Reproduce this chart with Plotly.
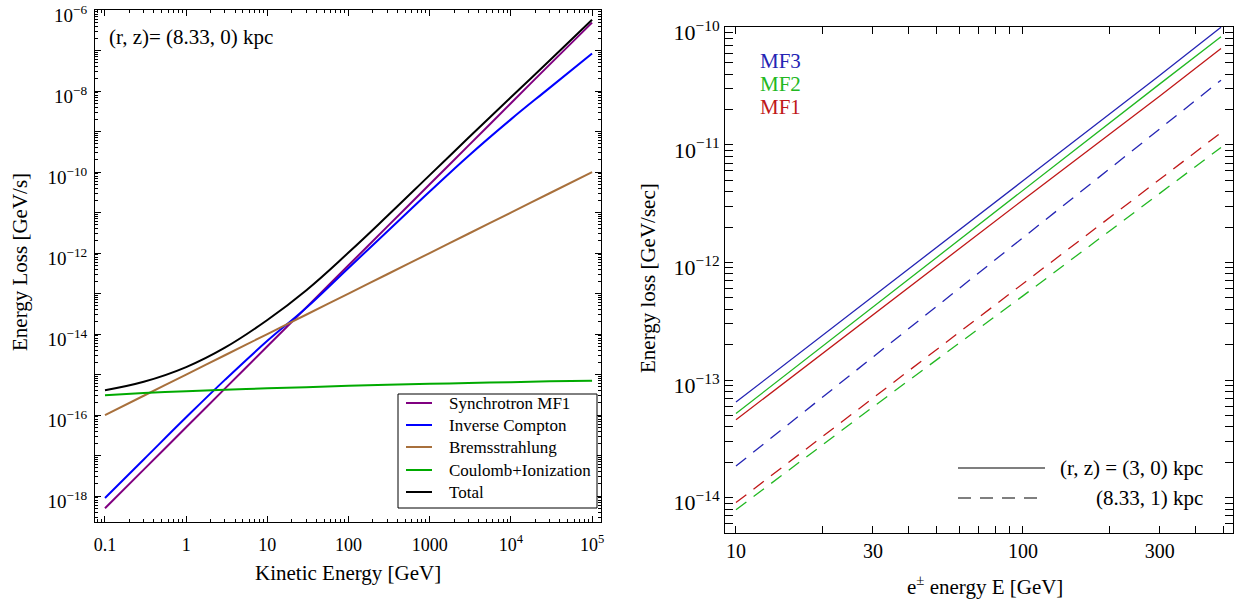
import plotly.graph_objects as go

# ---------------- Left panel data (r, z) = (8.33, 0) kpc ----------------
E_kin = [0.1, 0.3, 1, 3, 10, 30, 100, 300, 1000, 3000, 1e4, 3e4, 1e5]
synchrotron = [5e-19, 4.5e-18, 5e-17, 4.5e-16, 5e-15, 4.5e-14, 5e-13, 4.5e-12,
               5e-11, 4.5e-10, 5e-9, 4.5e-8, 4.9e-7]
inverse_compton = [9e-19, 8e-18, 8.8e-17, 7.4e-16, 6.8e-15, 4.4e-14, 4.3e-13,
                   3.4e-12, 3.3e-11, 2.5e-10, 2.0e-9, 1.2e-8, 8.5e-8]
bremsstrahlung = [1e-16, 3e-16, 1e-15, 3e-15, 1e-14, 3e-14, 1e-13, 3e-13,
                  1e-12, 3e-12, 1e-11, 3e-11, 1e-10]
coulomb_ion = [3.1e-16, 3.5e-16, 3.9e-16, 4.2e-16, 4.6e-16, 4.9e-16, 5.3e-16,
               5.6e-16, 5.9e-16, 6.2e-16, 6.5e-16, 6.8e-16, 7.0e-16]
total = [a + b + c + d for a, b, c, d in
         zip(synchrotron, inverse_compton, bremsstrahlung, coulomb_ion)]

# ---------------- Right panel data ----------------
E_pos = [10, 30, 100, 300, 490]
mf3_r3 = [6.5e-14, 5.1e-13, 4.95e-12, 3.9e-11, 1.0e-10]
mf2_r3 = [5.2e-14, 4.2e-13, 4.1e-12, 3.3e-11, 8.3e-11]
mf1_r3 = [4.6e-14, 3.6e-13, 3.4e-12, 2.6e-11, 6.6e-11]
mf3_r833 = [1.86e-14, 1.57e-13, 1.62e-12, 1.36e-11, 3.55e-11]
mf1_r833 = [9.1e-15, 7.0e-14, 6.6e-13, 5.1e-12, 1.27e-11]
mf2_r833 = [7.9e-15, 5.9e-14, 5.2e-13, 3.9e-12, 9.5e-12]

left_x_ticks = [0.1, 1, 10, 100, 1000, 1e4, 1e5]
left_x_labels = ["0.1", "1", "10", "100", "1000", "10<sup>4</sup>", "10<sup>5</sup>"]
left_y_decades = list(range(-18, -5))
right_x_ticks = [10, 20, 30, 40, 50, 60, 70, 80, 90, 100, 200, 300, 400, 500]
right_x_labels = {10: "10", 30: "30", 100: "100", 300: "300"}
right_y_decades = [-15, -14, -13, -12, -11]

FONT = "Liberation Serif, Times New Roman, Times, DejaVu Serif, serif"
C_PURPLE = "#800080"
C_BLUE = "#0000ff"
C_BROWN = "#a8703c"
C_GREEN = "#00aa00"
R_BLUE = "#2424b4"
R_GREEN = "#22b822"
R_RED = "#c01818"

fig = go.Figure()

left = [
    ("Synchrotron MF1", synchrotron, C_PURPLE),
    ("Inverse Compton", inverse_compton, C_BLUE),
    ("Bremsstrahlung", bremsstrahlung, C_BROWN),
    ("Coulomb+Ionization", coulomb_ion, C_GREEN),
    ("Total", total, "black"),
]
for name, ys, col in left:
    fig.add_trace(go.Scatter(x=E_kin, y=ys, mode="lines", name=name,
                             line=dict(color=col, width=2, shape="spline", smoothing=1.2),
                             xaxis="x", yaxis="y", showlegend=False))

right = [
    (mf3_r3, R_BLUE, "solid"), (mf2_r3, R_GREEN, "solid"), (mf1_r3, R_RED, "solid"),
    (mf3_r833, R_BLUE, "13px,9px"), (mf1_r833, R_RED, "13px,9px"), (mf2_r833, R_GREEN, "13px,9px"),
]
for ys, col, dash in right:
    fig.add_trace(go.Scatter(x=E_pos, y=ys, mode="lines", showlegend=False,
                             line=dict(color=col, width=1.3, dash=dash),
                             xaxis="x2", yaxis="y2"))

W, H = 1240, 601
dom_lx = [95 / W, 601 / W]
dom_ly = [1 - 522 / H, 1 - 10 / H]
dom_rx = [725 / W, 1233 / W]
dom_ry = [1 - 533 / H, 1 - 27 / H]

axis_common = dict(showline=True, linecolor="black", linewidth=1, mirror="allticks",
                   ticks="inside", tickcolor="black", showgrid=False, zeroline=False,
                   automargin=False, ticklabeloverflow="allow")

left_x_minor = [m * 10.0 ** d for d in range(-2, 6) for m in range(2, 10)]
left_y_minor = [m * 10.0 ** d for d in range(-19, -5) for m in range(2, 10)]
right_y_vals = [m * 10.0 ** d for d in right_y_decades for m in range(1, 10)] + [1e-10]
right_y_text = [("10<sup>\u2212%d</sup>" % (-d)) if m == 1 else ""
                for d in right_y_decades for m in range(1, 10)] + ["10<sup>\u221210</sup>"]

fig.update_layout(
    width=W, height=H, margin=dict(l=0, r=0, t=0, b=0),
    paper_bgcolor="white", plot_bgcolor="white", showlegend=False,
    font=dict(family=FONT, color="black", size=16),
    xaxis=dict(domain=dom_lx, type="log", range=[-1.123, 5.11], anchor="y",
               tickvals=left_x_ticks, ticktext=left_x_labels, ticklen=6,
               tickfont=dict(family=FONT, size=18), ticklabelstandoff=6,
               minor=dict(ticks="inside", ticklen=3, tickcolor="black", showgrid=False,
                          tickvals=left_x_minor),
               **axis_common),
    yaxis=dict(domain=dom_ly, type="log", range=[-18.64, -5.998], anchor="x",
               tickvals=[10.0 ** d for d in left_y_decades],
               ticktext=[("10<sup>\u2212%d</sup>" % (-d)) if d % 2 == 0 else "" for d in left_y_decades],
               ticklen=6, tickfont=dict(family=FONT, size=19), ticklabelshift=5,
               ticklabelstandoff=3,
               minor=dict(ticks="inside", ticklen=3, tickcolor="black", showgrid=False,
                          tickvals=left_y_minor),
               **axis_common),
    xaxis2=dict(domain=dom_rx, type="log", range=[0.9617, 2.732], anchor="y2",
                tickvals=right_x_ticks,
                ticktext=[right_x_labels.get(v, "") for v in right_x_ticks],
                ticklen=7, tickfont=dict(family=FONT, size=20), **axis_common),
    yaxis2=dict(domain=dom_ry, type="log", range=[-14.30, -9.998], anchor="x2",
                tickvals=right_y_vals, ticktext=right_y_text, ticklabelshift=5,
                ticklen=8, tickfont=dict(family=FONT, size=22),
                **axis_common),
)

def ann(text, x, y, xref="paper", yref="paper", size=18, color="black", anchor="center", angle=0):
    return dict(text=text, x=x, y=y, xref=xref, yref=yref, xanchor=anchor, yanchor="middle",
                showarrow=False, textangle=angle, font=dict(family=FONT, size=size, color=color))

annotations = [
    ann("(r, z)= (8.33, 0) kpc", 0.0863, 1 - 37 / H, size=21, anchor="left"),
    ann("Kinetic Energy [GeV]", 348 / W, 1 - 573 / H, size=21),
    ann("Energy Loss [GeV/s]", 20 / W, 1 - 262 / H, size=21, angle=-90),
    ann("e<sup>\u00b1</sup> energy E [GeV]", 985 / W, 1 - 585 / H, size=21),
    ann("Energy loss [GeV/sec]", 648 / W, 1 - 278 / H, size=21, angle=-90),
    ann("MF3", 0.065, (533 - 61) / 506, "x2 domain", "y2 domain", 21, R_BLUE, "left"),
    ann("MF2", 0.065, (533 - 84) / 506, "x2 domain", "y2 domain", 21, R_GREEN, "left"),
    ann("MF1", 0.065, (533 - 107) / 506, "x2 domain", "y2 domain", 21, R_RED, "left"),
    ann("(r, z) = (3, 0) kpc", (1205 - 725) / 508, (533 - 468) / 506, "x2 domain", "y2 domain", 21, "black", "right"),
    ann("(8.33, 1) kpc", (1205 - 725) / 508, (533 - 498) / 506, "x2 domain", "y2 domain", 21, "black", "right"),
]

# manual legend for the left panel (box, key lines, labels)
shapes = [dict(type="rect", xref="paper", yref="paper",
               x0=398 / W, x1=597 / W, y0=1 - 508 / H, y1=1 - 394 / H,
               line=dict(color="black", width=1), fillcolor="white", layer="above")]
legend_rows = [403, 425, 447, 470, 492]
for (name, _, col), yy in zip(left, legend_rows):
    shapes.append(dict(type="line", xref="paper", yref="paper",
                       x0=406 / W, x1=432 / W, y0=1 - yy / H, y1=1 - yy / H,
                       line=dict(color=col, width=2), layer="above"))
    annotations.append(ann(name, 447 / W, 1 - yy / H, size=17, anchor="left"))

shapes.append(dict(type="line", xref="x2 domain", yref="y2 domain",
                   x0=(958 - 725) / 508, x1=(1045 - 725) / 508,
                   y0=(533 - 468) / 506, y1=(533 - 468) / 506,
                   line=dict(color="#555555", width=1.3)))
shapes.append(dict(type="line", xref="x2 domain", yref="y2 domain",
                   x0=(958 - 725) / 508, x1=(1045 - 725) / 508,
                   y0=(533 - 498) / 506, y1=(533 - 498) / 506,
                   line=dict(color="#555555", width=1.3, dash="13px,9px")))

fig.update_layout(annotations=annotations, shapes=shapes)

fig.write_html("out.html")
